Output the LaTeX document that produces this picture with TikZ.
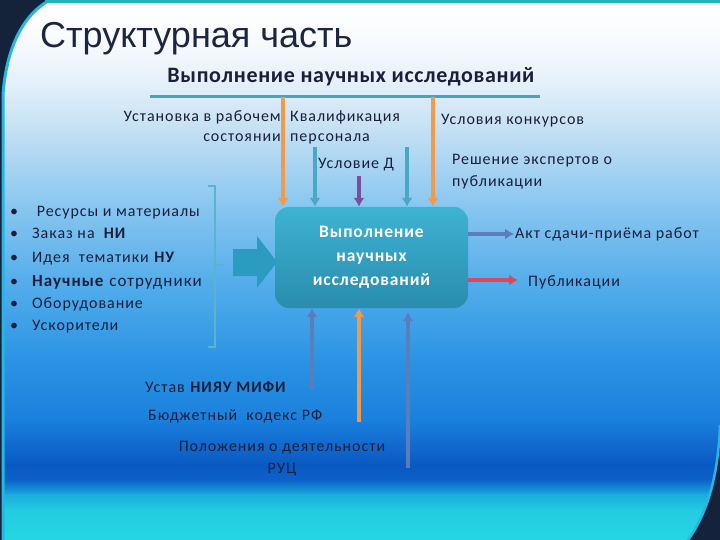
\documentclass[tikz,border=0pt]{standalone}
\usepackage{fontspec}
\setmainfont{Carlito}
\newfontfamily\lsfont{Carlito}[LetterSpace=6]
\newfontfamily\subfont{Carlito}[LetterSpace=3]
\newfontfamily\boxfont{Carlito}[LetterSpace=5]
\newfontfamily\titlefont{Liberation Sans}
\usetikzlibrary{arrows.meta}
\definecolor{navy}{HTML}{14223A}
\definecolor{txt}{HTML}{1A1F3C}
\definecolor{titleC}{HTML}{1C2541}
\definecolor{orangeA}{HTML}{F39A4A}
\definecolor{tealA}{HTML}{4AA8C4}
\definecolor{purpA}{HTML}{7A4E9E}
\definecolor{steelA}{HTML}{5B7DBA}
\definecolor{redA}{HTML}{D8495E}
\definecolor{boxtop}{HTML}{3DB3D2}
\definecolor{boxbot}{HTML}{2A8CAE}
\definecolor{lineC}{HTML}{4AA3BA}
\definecolor{brC}{HTML}{5AB4CC}
\definecolor{blockC}{HTML}{2B9CC0}
\definecolor{rimC}{HTML}{26B6E6}
\definecolor{topC}{HTML}{1FB5B5}
\definecolor{c0}{HTML}{FFFFFF}
\definecolor{c1}{HTML}{F8FBFD}
\definecolor{c2}{HTML}{E6F1FA}
\definecolor{c3}{HTML}{C4E0F4}
\definecolor{c4}{HTML}{8DC8F0}
\definecolor{c5}{HTML}{55AEEB}
\definecolor{c6}{HTML}{2B94E4}
\definecolor{c7}{HTML}{1A80DD}
\definecolor{c8}{HTML}{0A58C2}
\definecolor{c9}{HTML}{0C62C8}
\definecolor{c10}{HTML}{1AAEDD}
\definecolor{c11}{HTML}{22CCE0}
\definecolor{c12}{HTML}{24D6E2}
\tikzset{
  lbl/.style={font=\lsfont\fontsize{16}{19}\selectfont, text=txt, inner sep=0pt},
  arr/.style={line width=3.2pt, -{Latex[length=9pt,width=11pt]}},
}
\begin{document}
\begin{tikzpicture}[x=1pt,y=-1pt]
\useasboundingbox (0,0) rectangle (720,540);
% background
\fill[navy] (0,0) rectangle (720,540);
\begin{scope}
\clip (50,0) -- (720,0) -- (720,425) .. controls (718,480) and (706,515) .. (688,540)
  -- (3,540) -- (3,95) .. controls (6,50) and (22,15) .. (50,0) -- cycle;
\foreach \ya/\ca/\yb/\cb in {0/c0/40/c1, 40/c1/80/c2, 80/c2/130/c3, 130/c3/200/c4,
   200/c4/280/c5, 280/c5/360/c6, 360/c6/420/c7, 420/c7/465/c8, 465/c8/480/c9,
   480/c9/495/c10, 495/c10/510/c11, 510/c11/540/c12}
  \shade[top color=\ca, bottom color=\cb] (0,\ya-0.6) rectangle (720,\yb+0.6);
\end{scope}
\draw[rimC, line width=3pt] (50,0) .. controls (22,15) and (6,50) .. (3,95) -- (3,540);
\draw[rimC, line width=2.5pt] (720,425) .. controls (718,480) and (706,515) .. (688,540);
\fill[topC] (45,0) rectangle (720,3);

% titles
\node[anchor=base west, inner sep=0pt, text=titleC,
  font=\titlefont\fontsize{36}{40}\selectfont] (title) at (40,48) {Структурная часть};
\node[anchor=base, inner sep=0pt, text=txt,
  font=\subfont\bfseries\fontsize{22}{26}\selectfont] (sub) at (351,83) {Выполнение научных исследований};
\draw[lineC, line width=3pt] (150,97) coordinate (L1) -- (540,97) coordinate (L2);

% central box
\node[rounded corners=14pt, top color=boxtop, bottom color=boxbot,
  minimum width=193pt, minimum height=101pt, inner sep=0pt,
  text=white, align=center, font=\boxfont\bfseries\fontsize{17.5}{24}\selectfont]
  (box) at (371.5,257.5) {\raisebox{-2pt}{Выполнение}\\\raisebox{-2pt}{научных}\\\raisebox{-2pt}{исследований}};

% top labels
\node[lbl, anchor=base east, align=right] (ust) at (281,122) {Установка в рабочем};
\node[lbl, anchor=base east] (sost) at (281,142) {состоянии};
\node[lbl, anchor=base west] (kval) at (290,122) {Квалификация};
\node[lbl, anchor=base west] (pers) at (290,142) {персонала};
\node[lbl, anchor=base west] (uslD) at (318,169) {Условие Д};
\node[lbl, anchor=base west] (uslK) at (441,125) {Условия конкурсов};
\node[lbl, anchor=base west] (resh) at (452,165) {Решение экспертов о};
\node[lbl, anchor=base west] (publ) at (452,187) {публикации};

% top arrows
\coordinate (o1) at (283,97);
\coordinate (o2) at (433,97);
\coordinate (t1) at (315,147);
\coordinate (p1) at (359,176);
\coordinate (t2) at (407,147);
\draw[arr, orangeA] (o1) -- (o1 |- box.north);
\draw[arr, tealA] (t1) -- (t1 |- box.north);
\draw[arr, purpA] (p1) -- (p1 |- box.north);
\draw[arr, tealA] (t2) -- (t2 |- box.north);
\draw[arr, orangeA] (o2) -- (o2 |- box.north);

% left list
\foreach \yy/\tt [count=\i] in {217/{\ Ресурсы и материалы}, 238/{Заказ на \ \textbf{НИ}},
  262/{Идея \ тематики \textbf{НУ}}, 286/{{\fontsize{17}{20}\selectfont\textbf{Научные} сотрудники}},
  308/{Оборудование}, 330/{Ускорители}} {
  \node[lbl, anchor=base west] (b\i) at (10,\yy) {•};
  \node[lbl, anchor=base west] (li\i) at (32,\yy) {\tt};
}
% bracket
\draw[brC, line width=1.6pt] (208,186) -- (215,186) -- (215,347) -- (208,347);
\draw[brC, line width=1.6pt] (215,265) -- (224,265);
% block arrow
\fill[blockC] (233,249) -- (257,249) -- (257,236) -- (277,262) -- (257,288)
  -- (257,276) -- (233,276) -- cycle;

% right outputs
\coordinate (a1) at (514,234);
\coordinate (a2) at (518,280);
\draw[arr, steelA] (box.east |- a1) -- (a1);
\draw[arr, redA] (box.east |- a2) -- (a2);
\node[lbl, anchor=base west] (akt) at (515,239) {Акт сдачи-приёма работ};
\node[lbl, anchor=base west] (pub) at (528,286) {Публикации};

% bottom arrows
\coordinate (u1) at (312,390);
\coordinate (u2) at (359,422);
\coordinate (u3) at (408,468);
\draw[arr, steelA] (u1) -- (u1 |- box.south);
\draw[arr, orangeA] (u2) -- (u2 |- box.south);
\draw[arr, steelA] (u3) -- ([yshift=-4pt]u3 |- box.south);

% bottom labels
\node[lbl, anchor=base west] (ustav) at (145,392) {Устав \textbf{НИЯУ МИФИ}};
\node[lbl, anchor=base west] (bud) at (148,420) {Бюджетный \ кодекс РФ};
\node[lbl, anchor=base, align=center] (pol) at (282,451) {Положения о деятельности};
\node[lbl, anchor=base] (ruc) at (282,473) {РУЦ};
\end{tikzpicture}
\end{document}
